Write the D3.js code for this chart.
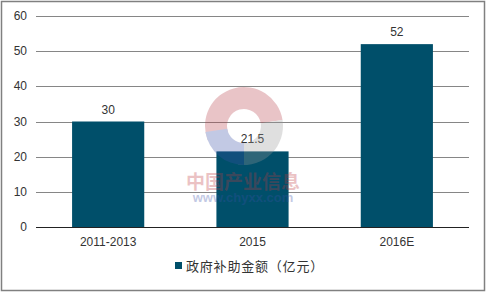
<!DOCTYPE html>
<html>
<head>
<meta charset="utf-8">
<script src="https://cdn.jsdelivr.net/npm/d3@7"></script>
<style>
  body { margin: 0; background: #fff; }
  svg { display: block; font-family: "Liberation Sans", Arial, "Noto Sans CJK SC", sans-serif; }
</style>
</head>
<body>
<svg id="chart" width="489" height="293"></svg>
<script>
var categories = ["2011-2013", "2015", "2016E"],
    values = [30, 21.5, 52],
    y_ticks = [0, 10, 20, 30, 40, 50, 60],
    series_name = "政府补助金额（亿元）";

var bar_color = "#004f6a",
    grid_color = "#868686",
    text_color = "#333";

var svg = d3.select("#chart");

// plot area
var plot_left = 36, plot_right = 469, plot_top = 16, plot_bottom = 227;

var x = d3.scaleBand().domain(categories).range([plot_left, plot_right]).paddingInner(0.5).paddingOuter(0.25);
var y = d3.scaleLinear().domain([0, 60]).range([plot_bottom, plot_top]);

// outer frame
svg.append("rect").attr("x", 1.5).attr("y", 1.5).attr("width", 483).attr("height", 289)
    .attr("fill", "none").attr("stroke", "#808080").attr("stroke-width", 1.5);

// gridlines
svg.append("g").selectAll("line").data(y_ticks.slice(1)).enter().append("line")
    .attr("x1", plot_left).attr("x2", plot_right)
    .attr("y1", function (d) { return Math.round(y(d)) + 0.5; })
    .attr("y2", function (d) { return Math.round(y(d)) + 0.5; })
    .attr("stroke", grid_color).attr("stroke-width", 1);

// y tick labels
svg.append("g").selectAll("text").data(y_ticks).enter().append("text")
    .attr("x", 27).attr("y", function (d) { return y(d) + 4; })
    .attr("text-anchor", "end").attr("font-size", 12).attr("fill", text_color)
    .text(function (d) { return d; });

// bars
svg.append("g").selectAll("rect").data(values).enter().append("rect")
    .attr("x", function (d, i) { return x(categories[i]); })
    .attr("width", x.bandwidth())
    .attr("y", function (d) { return y(d); })
    .attr("height", function (d) { return plot_bottom - y(d); })
    .attr("fill", bar_color);

// baseline
svg.append("line").attr("x1", plot_left).attr("x2", plot_right)
    .attr("y1", plot_bottom + 0.5).attr("y2", plot_bottom + 0.5)
    .attr("stroke", "#222").attr("stroke-width", 1);

// value labels
svg.append("g").selectAll("text").data(values).enter().append("text")
    .attr("x", function (d, i) { return x(categories[i]) + x.bandwidth() / 2; })
    .attr("y", function (d) { return y(d) - 8; })
    .attr("text-anchor", "middle").attr("font-size", 12).attr("fill", text_color)
    .text(function (d) { return d; });

// category labels
svg.append("g").selectAll("text").data(categories).enter().append("text")
    .attr("x", function (d) { return x(d) + x.bandwidth() / 2; })
    .attr("y", 246)
    .attr("text-anchor", "middle").attr("font-size", 12).attr("fill", text_color)
    .text(function (d) { return d; });

// legend
svg.append("rect").attr("x", 175).attr("y", 262).attr("width", 7).attr("height", 7).attr("fill", bar_color);
svg.append("text").attr("x", 186).attr("y", 271).attr("font-size", 13).attr("fill", text_color)
    .attr("font-family", "'Noto Sans CJK SC', sans-serif")
    .attr("letter-spacing", 0.8)
    .text(series_name);

// watermark
var wm = svg.append("g").attr("opacity", 0.3);
var arc = d3.arc().innerRadius(17).outerRadius(39);
var logo = wm.append("g").attr("transform", "translate(244,126)");
logo.append("path").attr("d", arc({startAngle: -Math.PI * 0.62, endAngle: Math.PI * 0.45})).attr("fill", "#b8404a");
logo.append("path").attr("d", arc({startAngle: Math.PI * 0.45, endAngle: Math.PI * 1.05})).attr("fill", "#999");
logo.append("path").attr("d", arc({startAngle: Math.PI * 1.0, endAngle: Math.PI * 1.45})).attr("fill", "#3a50a8");
wm.append("text").attr("x", 243).attr("y", 189).attr("text-anchor", "middle")
    .attr("font-size", 19).attr("font-weight", "bold").attr("fill", "#c0393f")
    .attr("font-family", "'Noto Sans CJK SC', sans-serif").text("中国产业信息");
wm.append("text").attr("x", 243).attr("y", 202).attr("text-anchor", "middle")
    .attr("font-size", 13).attr("font-weight", "bold").attr("fill", "#3a50a8")
    .text("www.chyxx.com");
</script>
</body>
</html>
